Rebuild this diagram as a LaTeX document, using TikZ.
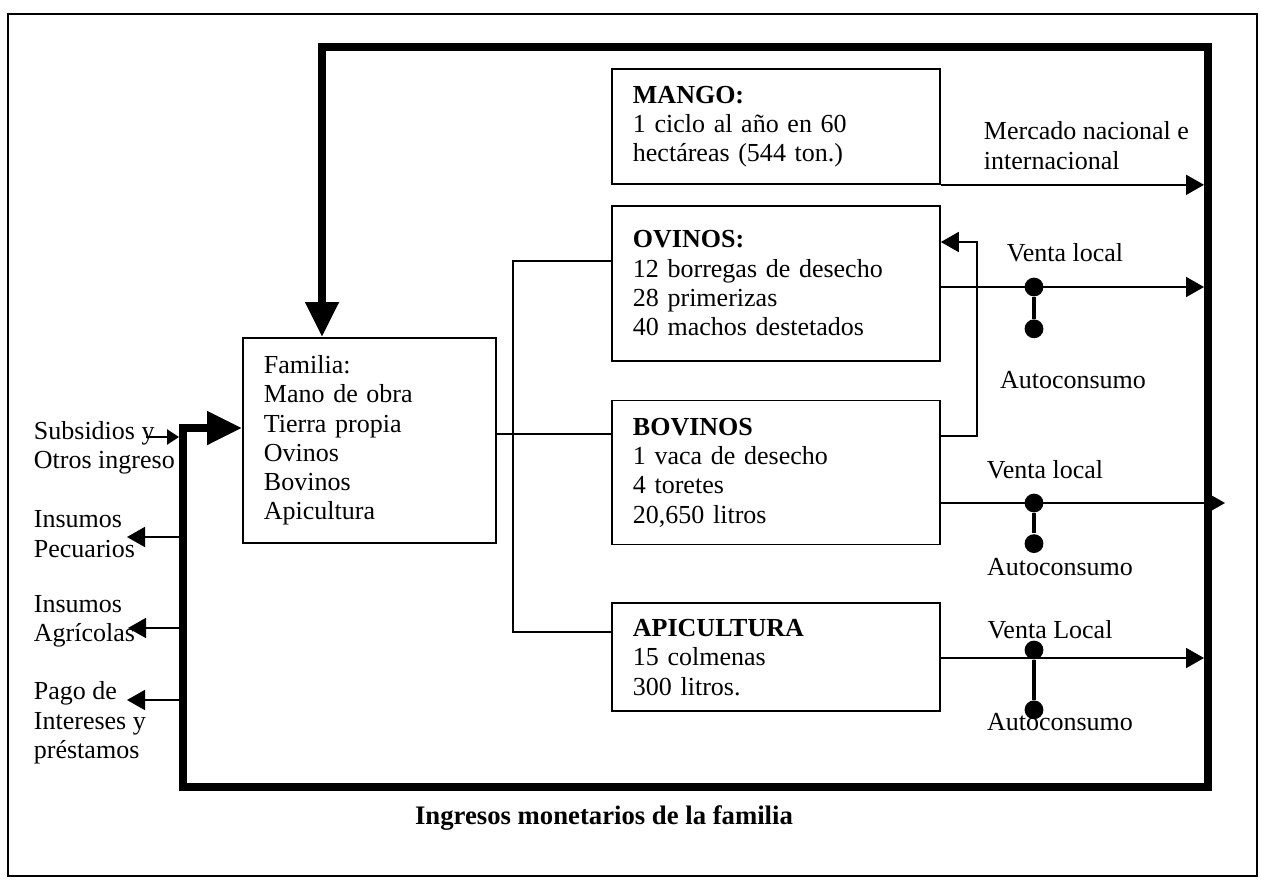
\documentclass[tikz,border=0pt]{standalone}
\usepackage{fontspec}
\setmainfont{Liberation Serif}
\usetikzlibrary{positioning, arrows.meta}

\begin{document}
\begin{tikzpicture}[
    > = {Triangle[length = 0.45cm, width = 0.5cm]},
    line width = 1.3pt,
    font = \fontsize{18.5}{20.8}\selectfont,
    box/.style = {rectangle, draw, align = left, inner xsep = 0.525cm, inner ysep = 0pt, text width = 7.15cm},
    income/.style = {line width = 0.2cm, line join = miter,
                     arrows = {Triangle[length = 0.875cm, width = 0.8cm]-Triangle[length = 0.875cm, width = 0.8cm]}},
    dot/.style = {circle, fill, inner sep = 0pt, minimum size = 0.47cm},
    split/.style = {line width = 3pt},
    tag/.style = {inner sep = 0pt, align = left}
]

\useasboundingbox (0, 0) rectangle (31.525, -22.025);
\draw[line width = 1pt] (0.2, -0.35) rectangle (31.425, -21.9);

% Boxes
\node[box, text width = 5.275cm, minimum height = 5.125cm, anchor = north west] (familia) at (6.05, -8.425)
    {Familia:\\ Mano de obra\\ Tierra propia\\ Ovinos\\ Bovinos\\ Apicultura};
\node[box, minimum height = 2.875cm, anchor = north west] (mango) at (15.275, -1.7)
    {\textbf{MANGO:}\\ 1 ciclo al año en 60\\ hectáreas (544 ton.)};
\node[box, minimum height = 3.875cm, below = 0.5cm of mango] (ovinos)
    {\textbf{OVINOS:}\\ 12 borregas de desecho\\ 28 primerizas\\ 40 machos destetados};
\node[box, minimum height = 3.6cm, below = 0.95cm of ovinos] (bovinos)
    {\textbf{BOVINOS}\\ 1 vaca de desecho\\ 4 toretes\\ 20,650 litros};
\node[box, minimum height = 2.7cm, below = 1.425cm of bovinos] (apicultura)
    {\textbf{APICULTURA}\\ 15 colmenas\\ 300 litros.};

% Income loop
\coordinate (nw)  at (8.05, -1.175);
\coordinate (ne)  at (30.2, -1.175);
\coordinate (se)  at (30.2, -19.675);
\coordinate (sw)  at (4.575, -19.675);
\coordinate (in)  at (4.575, -10.7);
\coordinate (rim) at (30.1, -1.175);
\coordinate (rimw) at (4.475, -10.7);

% Familia to activities
\coordinate (hub-top) at (12.825, -6.525);
\coordinate (hub-bot) at (12.825, -15.8);
\draw (familia.east |- 0,-10.85) -- (bovinos.west |- 0,-10.85);
\draw (ovinos.west |- hub-top) -- (hub-top) -- (hub-bot) -- (apicultura.west |- hub-bot);

% Mango
\draw[->] (mango.south east) -- (mango.south east -| rim);
\node[tag] (mercado) at (24.575, -3.64) [anchor = west] {Mercado nacional e\\ internacional};

% Ovinos
\node[dot]                          (ov-v) at (25.85, -7.175) {};
\node[dot, below = 0.53cm of ov-v]  (ov-a) {};
\draw[->] (ovinos.east |- ov-v) -- (ov-v -| rim);
\draw[split] (ov-v) -- (ov-a);
\node[tag] (ov-venta) at (26.625, -6.325) {Venta local};
\node[tag] (ov-auto)  at (26.825, -9.5)   {Autoconsumo};

% Bovinos
\coordinate (back) at (24.425, -6.05);
\draw[->] (bovinos.east |- 0,-10.9) -| (back) -- (ovinos.east |- back);
\node[dot]                          (bov-v) at (25.85, -12.575) {};
\node[dot, below = 0.5cm of bov-v]  (bov-a) {};
\coordinate (bov-out) at (30.625, -12.575);
\draw[->] (bovinos.east |- bov-v) -- (bov-out);
\draw[split] (bov-v) -- (bov-a);
\node[tag] (bov-venta) at (26.125, -11.75)  {Venta local};
\node[tag] (bov-auto)  at (26.5, -14.175)   {Autoconsumo};

% Apicultura
\node[dot]                          (api-v) at (25.85, -16.25) {};
\node[dot, below = 0.98cm of api-v] (api-a) {};
\draw[->] (apicultura.east |- 0,-16.45) -- (rim |- 0,-16.45);
\draw[split] (api-v) -- (api-a);
\node[tag] (api-venta) at (26.25, -15.75) {Venta Local};
\node[tag] (api-auto)  at (26.5, -18.05)  {Autoconsumo};

% Left side
\node[tag, anchor = west] (subs) at (0.825, -11.2)  {Subsidios y\\ Otros ingreso};
\node[tag, anchor = west] (pec)  at (0.825, -13.35) {Insumos\\ Pecuarios};
\node[tag, anchor = west] (agr)  at (0.825, -15.525) {Insumos\\ Agrícolas};
\node[tag, anchor = west] (pago) at (0.825, -18.07) {Pago de\\ Intereses y\\ préstamos};

\coordinate (subs-in)  at (3.65, -10.925);
\coordinate (pec-out)  at (3.175, -13.425);
\coordinate (agr-out)  at (3.2, -15.7);
\coordinate (pago-out) at (3.175, -17.5);
\draw[-{Triangle[length = 0.3cm, width = 0.38cm]}] (subs-in) -- (rimw |- subs-in);
\draw[->] (sw |- pec-out)  -- (pec-out);
\draw[->] (sw |- agr-out)  -- (agr-out);
\draw[->] (sw |- pago-out) -- (pago-out);

\draw[income] (familia.west |- in) -- (in) -- (sw) -- (se) -- (ne) -- (nw) -- (familia.north -| nw);

\node[font = \fontsize{19}{21}\selectfont\bfseries] (ingresos) at (15.1, -20.45) {Ingresos monetarios de la familia};

\end{tikzpicture}
\end{document}
